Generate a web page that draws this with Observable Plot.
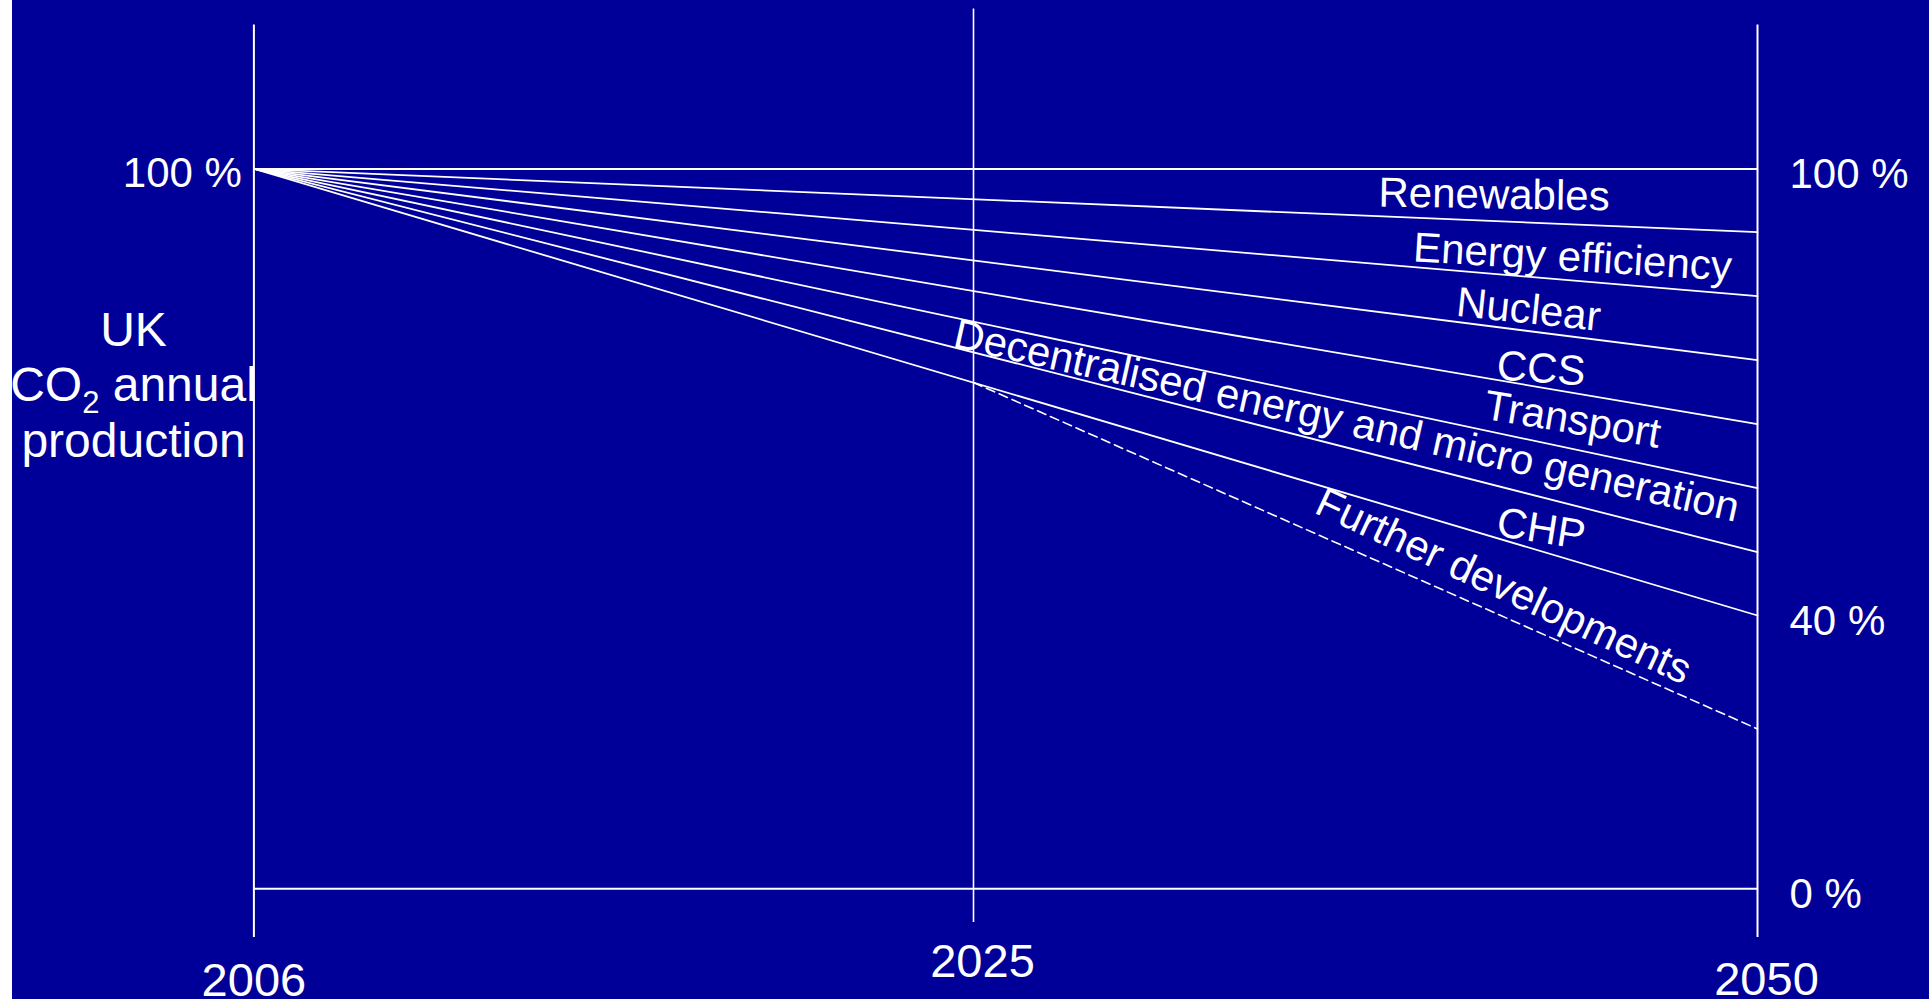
<!DOCTYPE html>
<html><head><meta charset="utf-8">
<script src="https://cdn.jsdelivr.net/npm/d3@7"></script>
<script src="https://cdn.jsdelivr.net/npm/@observablehq/plot@0.6"></script>
<style>
html,body{margin:0;padding:0;background:#000099;overflow:hidden}
#strip{position:absolute;left:0;top:0;width:12px;height:999px;background:#fff}
#chart svg{display:block}
</style></head><body><div id="chart"></div><div id="strip"></div>
<script>
// ---- data ----
const categories = ["Renewables", "Energy efficiency", "Nuclear", "CCS", "Transport",
  "Decentralised energy and micro generation", "CHP", "Further developments"];
const startYear = 2006, branchYear = 2025, endYear = 2050;
const startValue = 100;                                   // % in 2006
const endValues = [91.5, 82.9, 74.3, 65.7, 57.1, 48.5, 40]; // lower edge of each wedge in 2050 (%)
const furtherStartValue = 71.3;                           // on the CHP line at 2025 (%)
const furtherEndValue = 23.4;                             // dashed line end in 2050 (%)
const xTickYears = [2006, 2025, 2050];
const yTickValues = [0, 40, 100];
const yTickLabels = ["0 %", "40 %", "100 %"];
const yTitleLines = ["UK", "CO2 annual", "production"];

// ---- layout ----
const W = 1929, H = 999;
const xDomain = [2006, 2025, 2050], xRange = [253.4, 973, 1757];
const yDomain = [0, 40, 100], yRange = [888.3, 615, 168.4];
const xs = d3.scaleLinear().domain(xDomain).range(xRange);
const ys = d3.scaleLinear().domain(yDomain).range(yRange);
const font = "'Liberation Sans', Arial, sans-serif";

const boundaryRows = endValues.flatMap((v, i) => [
  {id: i, year: startYear, value: startValue},
  {id: i, year: endYear, value: v}
]);
const furtherRows = [{year: branchYear, value: furtherStartValue}, {year: endYear, value: furtherEndValue}];

function pxAt(seg, year) {
  const [p0, p1] = seg;
  const x = xs(year), x0 = xs(p0.year), x1 = xs(p1.year);
  return ys(p0.value) + (x - x0) / (x1 - x0) * (ys(p1.value) - ys(p0.value));
}
function segOf(i) { // boundary i: -1 = 100% baseline, 0..6 = endValues, 7 = dashed
  if (i === 7) return furtherRows;
  const v = i < 0 ? startValue : endValues[i];
  return [{year: startYear, value: startValue}, {year: endYear, value: v}];
}
const placement = [
  {year: 2041.6, rotate: 1, dy: 0},
  {year: 2044.1, rotate: 3.5, dy: 5},
  {year: 2042.7, rotate: 6, dy: 6},
  {year: 2043.1, rotate: 4, dy: 9},
  {year: 2044.1, rotate: 9.5, dy: -1},
  {year: 2036.9, rotate: 12.6, dy: -3},
  {year: 2043.1, rotate: 9, dy: 5},
  {year: 2041.9, rotate: 25, dy: 8}
];
const labelRows = categories.map((name, i) => {
  const p = placement[i];
  const mid = (pxAt(segOf(i - 1), p.year) + pxAt(segOf(i), p.year)) / 2 + p.dy;
  return {name, year: p.year, value: ys.invert(mid), rotate: p.rotate};
});

const yearText = [
  {dx: 0, dy: 43}, {dx: 9, dy: 24}, {dx: 9, dy: 42}
];

const chart = Plot.plot({
  width: W, height: H,
  marginTop: 24.6, marginBottom: 62, marginLeft: 0, marginRight: 0,
  style: {background: "#000099", color: "white", fontFamily: font},
  x: {type: "linear", domain: xDomain, range: xRange, axis: null},
  y: {type: "linear", domain: yDomain, range: yRange, axis: null},
  marks: [
    Plot.ruleX([xTickYears[0], xTickYears[2]], {x: d => d, stroke: "white", strokeWidth: 2}),
    Plot.ruleX([xTickYears[1]], {x: d => d, stroke: "white", strokeWidth: 1.6, insetTop: -16, insetBottom: 15}),
    Plot.ruleY([yTickValues[2], yTickValues[0]], {y: d => d, x1: () => startYear, x2: () => endYear, stroke: "white", strokeWidth: 2}),
    Plot.line(boundaryRows, {x: "year", y: "value", z: "id", stroke: "white", strokeWidth: 1.8}),
    Plot.line(furtherRows, {x: "year", y: "value", stroke: "white", strokeWidth: 1.6, strokeDasharray: "9,5"}),
    Plot.text(labelRows, {x: "year", y: "value", text: "name", rotate: "rotate", fill: "white", fontSize: 42}),
    ...xTickYears.map((yr, i) => Plot.text([yr], {x: d => d, frameAnchor: "bottom", lineAnchor: "middle",
      text: d => String(d), dx: yearText[i].dx, dy: yearText[i].dy, fill: "white", fontSize: 47})),
    Plot.text(yTickValues, {x: () => endYear, y: d => d, text: (d, i) => yTickLabels[i],
      textAnchor: "start", dx: 32, dy: 6, fill: "white", fontSize: 42}),
    Plot.text([yTickValues[2]], {x: () => startYear, y: d => d, text: () => yTickLabels[2],
      textAnchor: "end", dx: -12, dy: 5, fill: "white", fontSize: 42}),
    Plot.text([yTitleLines.join("\n")], {frameAnchor: "top-left", text: d => d, dx: 133, dy: 282,
      lineAnchor: "top", lineHeight: 1.15, textAnchor: "middle", fill: "white", fontSize: 48})
  ]
});
document.getElementById("chart").appendChild(chart);

// subscript 2 in CO2
d3.select(chart).selectAll("tspan").each(function() {
  if (this.textContent === "CO2 annual") {
    const t = d3.select(this);
    t.text("");
    t.append("tspan").text("CO");
    t.append("tspan").attr("font-size", 31).attr("baseline-shift", -12).text("2");
    t.append("tspan").text(" annual");
  }
});
</script></body></html>
